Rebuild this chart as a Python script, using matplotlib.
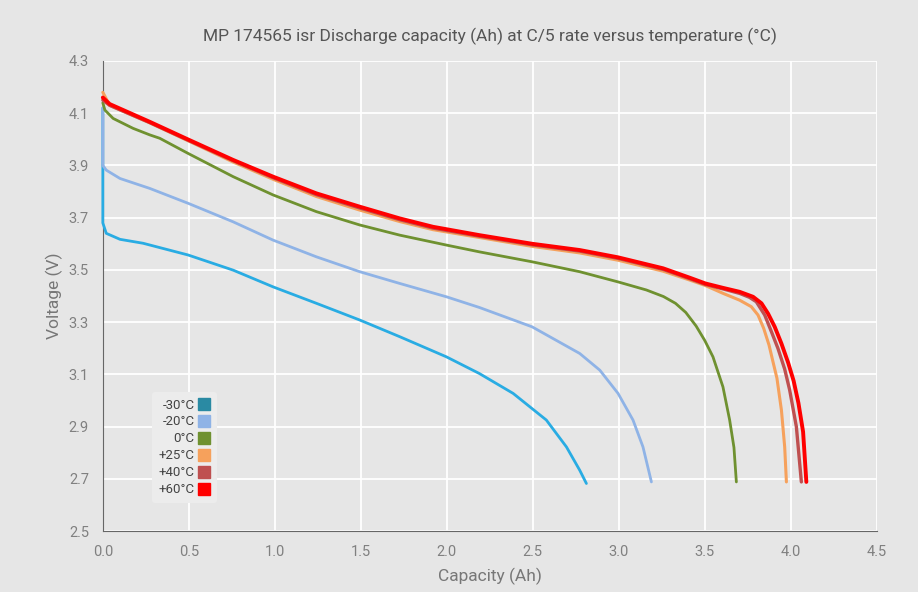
import matplotlib
matplotlib.use("Agg")
import matplotlib.pyplot as plt
from matplotlib.lines import Line2D

plt.rcParams['font.family'] = ['Roboto', 'DejaVu Sans']

# discharge curves (capacity Ah, voltage V)
cap_m30 = [0.0, 0.0, 0.02, 0.1, 0.234, 0.496, 0.758, 0.99, 1.242, 1.494, 1.727, 1.998,
           2.19, 2.386, 2.579, 2.696, 2.773, 2.812]
volt_m30 = [4.12, 3.68, 3.64, 3.617, 3.602, 3.557, 3.499, 3.435, 3.372, 3.308, 3.244, 3.167,
            3.103, 3.027, 2.925, 2.822, 2.733, 2.682]

cap_m20 = [0.0, 0.0, 0.02, 0.1, 0.273, 0.496, 0.758, 0.99, 1.242, 1.494, 1.727, 1.998,
           2.19, 2.496, 2.773, 2.89, 2.996, 3.083, 3.141, 3.19]
volt_m20 = [4.12, 3.90, 3.882, 3.85, 3.812, 3.755, 3.684, 3.614, 3.55, 3.493, 3.448, 3.397,
            3.356, 3.282, 3.18, 3.116, 3.027, 2.925, 2.822, 2.688]

cap_0 = [0.0, 0.012, 0.06, 0.176, 0.273, 0.331, 0.496, 0.758, 0.99, 1.242, 1.494, 1.727,
         1.998, 2.19, 2.496, 2.773, 2.996, 3.161, 3.26, 3.33, 3.39, 3.45, 3.5, 3.548,
         3.606, 3.645, 3.67, 3.684]
volt_0 = [4.14, 4.112, 4.08, 4.042, 4.017, 4.004, 3.946, 3.857, 3.787, 3.723, 3.672, 3.633,
          3.595, 3.569, 3.531, 3.493, 3.454, 3.423, 3.398, 3.372, 3.337, 3.285, 3.23, 3.167,
          3.052, 2.925, 2.82, 2.688]

cap_25 = [0.0, 0.04, 0.273, 0.494, 0.758, 0.99, 1.242, 1.494, 1.727, 1.92, 2.19, 2.496,
          2.773, 2.996, 3.258, 3.413, 3.504, 3.607, 3.703, 3.771, 3.81, 3.843, 3.874, 3.897,
          3.92, 3.946, 3.965, 3.975]
volt_25 = [4.18, 4.13, 4.063, 3.995, 3.913, 3.847, 3.781, 3.729, 3.685, 3.654, 3.624, 3.59,
           3.565, 3.537, 3.495, 3.461, 3.44, 3.41, 3.384, 3.359, 3.327, 3.276, 3.212, 3.148,
           3.085, 2.963, 2.822, 2.688]

cap_40 = [0.0, 0.04, 0.273, 0.494, 0.758, 0.99, 1.242, 1.494, 1.727, 1.92, 2.19, 2.496,
          2.773, 2.996, 3.258, 3.413, 3.504, 3.607, 3.703, 3.76, 3.80, 3.849, 3.888, 3.926,
          3.965, 3.994, 4.033, 4.062]
volt_40 = [4.15, 4.13, 4.064, 3.997, 3.918, 3.853, 3.788, 3.737, 3.692, 3.66, 3.629, 3.596,
           3.572, 3.544, 3.502, 3.466, 3.444, 3.427, 3.41, 3.395, 3.378, 3.327, 3.263, 3.199,
           3.12, 3.04, 2.899, 2.688]

cap_60 = [0.0, 0.04, 0.273, 0.494, 0.758, 0.99, 1.242, 1.494, 1.727, 1.92, 2.19, 2.496,
          2.773, 2.996, 3.258, 3.413, 3.504, 3.607, 3.703, 3.781, 3.83, 3.868, 3.907, 3.946,
          3.985, 4.017, 4.045, 4.072, 4.091]
volt_60 = [4.16, 4.135, 4.067, 4.0, 3.921, 3.857, 3.793, 3.742, 3.697, 3.665, 3.633, 3.60,
           3.576, 3.548, 3.506, 3.470, 3.448, 3.431, 3.416, 3.397, 3.372, 3.333, 3.282, 3.218,
           3.145, 3.075, 2.99, 2.88, 2.688]

labels = ["-30°C", "-20°C", "0°C", "+25°C", "+40°C", "+60°C"]
line_colors = ["#29ace3", "#8fb3e6", "#6f9130", "#f6a15c", "#bf5050", "#ff0000"]
legend_colors = ["#2a8aa3", "#8fb3e6", "#6f9130", "#f6a15c", "#bf5050", "#ff0000"]

bg = "#e6e6e6"
fig = plt.figure(figsize=(9.18, 5.92), dpi=100, facecolor=bg)
ax = fig.add_axes([0.112, 0.103, 0.843, 0.794], facecolor=bg)

curves = [(cap_m30, volt_m30), (cap_m20, volt_m20), (cap_0, volt_0),
          (cap_25, volt_25), (cap_40, volt_40), (cap_60, volt_60)]
widths = [2.0, 2.0, 2.0, 2.2, 2.4, 2.8]
for (c, v), col, lw in zip(curves, line_colors, widths):
    ax.plot(c, v, color=col, lw=lw, solid_capstyle="round", solid_joinstyle="round",
            zorder=3, clip_on=False)

ax.set_xlim(0, 4.5)
ax.set_ylim(2.5, 4.3)
ax.set_xticks([0.0, 0.5, 1.0, 1.5, 2.0, 2.5, 3.0, 3.5, 4.0, 4.5])
ax.set_yticks([2.5, 2.7, 2.9, 3.1, 3.3, 3.5, 3.7, 3.9, 4.1, 4.3])
ax.grid(True, color="white", lw=1.3)
ax.set_axisbelow(True)
for s in ["top", "right"]:
    ax.spines[s].set_visible(False)
for s in ["left", "bottom"]:
    ax.spines[s].set_color("#666666")
ax.tick_params(length=0, colors="#808080", labelsize=10.5, pad=10)

ax.set_title("MP 174565 isr Discharge capacity (Ah) at C/5 rate versus temperature (°C)",
             color="#555555", fontsize=12.5, pad=14)
ax.set_xlabel("Capacity (Ah)", color="#777777", fontsize=12.5, labelpad=6)
ax.set_ylabel("Voltage (V)", color="#777777", fontsize=12.5, labelpad=4)

handles = [Line2D([], [], marker="s", ls="none", markersize=9, color=c) for c in legend_colors]
leg = ax.legend(handles, labels, loc="upper left", bbox_to_anchor=(0.055, 0.31),
                markerfirst=False, frameon=True, fontsize=9.5, handletextpad=0.2,
                labelspacing=0.3, borderpad=0.5, handlelength=1.0)
leg.get_frame().set_facecolor("#ececec")
leg.get_frame().set_edgecolor("none")
leg.get_frame().set_alpha(1)
leg.set_zorder(5)
for t in leg.get_texts():
    t.set_color("#444444")

fig.savefig("out.png", dpi=100, facecolor=bg)
